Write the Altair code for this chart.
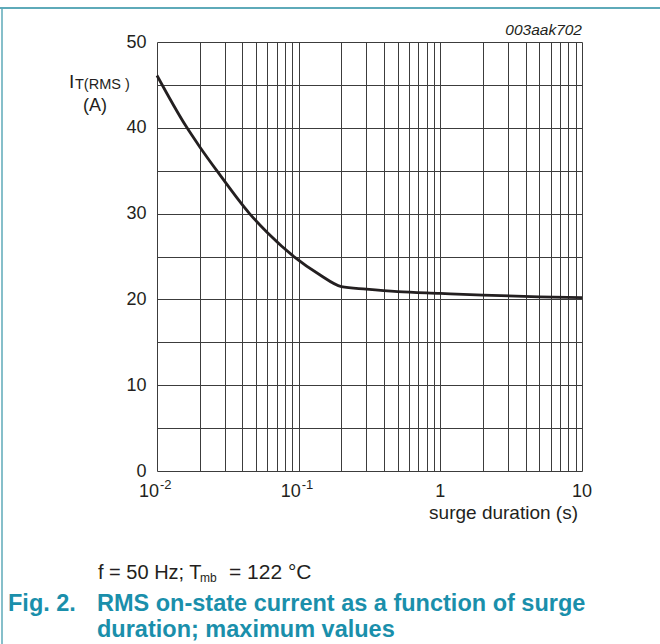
import altair as alt
import pandas as pd

# Surge duration (s) and maximum RMS on-state current (A)
duration_s = [0.01, 0.016, 0.02, 0.027, 0.045, 0.06, 0.094, 0.14, 0.2,
              0.3, 0.5, 1.0, 2.0, 5.0, 10.0]
current_a = [46.1, 40.2, 37.8, 34.8, 30.0, 27.8, 24.9, 22.9, 21.5,
             21.2, 20.9, 20.7, 20.5, 20.3, 20.2]

# Grid positions: every 1..9 x decade on the log axis, every 5 A on the linear axis
x_grid = [m * 10.0 ** e for e in (-2, -1, 0) for m in range(1, 10)] + [10.0]
y_grid = list(range(0, 55, 5))

# Decade tick labels (base and superscript exponent)
dec_exp_vals = [0.01, 0.1]
dec_exp_base = ["10", "10"]
dec_exp_sup = ["-2", "-1"]
dec_plain_vals = [1.0, 10.0]
dec_plain_text = ["1", "10"]

W, H = 425, 429
TEAL = "#1a8fab"
BORDER = "#5eaab9"
INK = "#231f20"

df = pd.DataFrame({"t": duration_s, "i": current_a})
xs = alt.Scale(type="log", domain=[0.01, 10])
ys = alt.Scale(domain=[0, 50], nice=False)

base = alt.Chart(df)

curve = base.mark_line(color=INK, strokeWidth=2.8, interpolate="monotone").encode(
    x=alt.X("t:Q", scale=xs,
            axis=alt.Axis(values=x_grid, grid=True, labels=False, ticks=False,
                          domain=False, title=None, gridColor="#3c3c3c",
                          gridOpacity=1, gridWidth=1)),
    y=alt.Y("i:Q", scale=ys,
            axis=alt.Axis(values=y_grid, grid=True, ticks=False, domain=False,
                          title=None, gridColor="#3c3c3c", gridOpacity=1,
                          gridWidth=1, labelFontSize=18, labelColor=INK,
                          labelFont="Liberation Sans", labelPadding=11,
                          labelExpr="datum.value % 10 == 0 ? datum.label : ''")),
)

exp_df = pd.DataFrame({"t": dec_exp_vals, "b": dec_exp_base, "s": dec_exp_sup})
lab_base = alt.Chart(exp_df).mark_text(
    align="right", baseline="middle", fontSize=18, font="Liberation Sans",
    color=INK, dx=2).encode(x=alt.X("t:Q", scale=xs), y=alt.value(H + 21), text="b:N")
lab_sup = alt.Chart(exp_df).mark_text(
    align="left", baseline="middle", fontSize=13, font="Liberation Sans",
    color=INK, dx=3).encode(x=alt.X("t:Q", scale=xs), y=alt.value(H + 14), text="s:N")
plain_df = pd.DataFrame({"t": dec_plain_vals, "b": dec_plain_text})
lab_plain = alt.Chart(plain_df).mark_text(
    align="center", baseline="middle", fontSize=18, font="Liberation Sans",
    color=INK).encode(x=alt.X("t:Q", scale=xs), y=alt.value(H + 21), text="b:N")

one = pd.DataFrame({"k": [0]})


def label(text, x, y, size=18, align="left", weight="normal", style="normal",
          color=INK, baseline="middle"):
    return alt.Chart(one).mark_text(
        text=text, align=align, baseline=baseline, fontSize=size,
        font="Liberation Sans", fontWeight=weight, fontStyle=style, color=color,
    ).encode(x=alt.value(x), y=alt.value(y))


texts = [
    label("003aak702", 425, -12, size=15.5, align="right", style="italic"),
    label("I", -88, 40, size=19),
    label("T(RMS )", -82, 43, size=14.5),
    label("(A)", -62, 64, size=18, align="center"),
    label("surge duration (s)", 421, 471, size=19, align="right"),
    label("f = 50 Hz; T", -59, 531, size=20),
    label("mb", 43, 536, size=12),
    label("= 122 °C", 72, 531, size=21),
    label("Fig. 2.", -149, 562, size=23.5, weight="bold", color=TEAL),
    label("RMS on-state current as a function of surge", -60, 562, size=23.5,
          weight="bold", color=TEAL),
    label("duration; maximum values", -60, 588, size=23.5, weight="bold", color=TEAL),
]

# Frame of the figure box: a top rule and a left rule
top_rule = alt.Chart(one).mark_rule(color=BORDER, strokeWidth=2).encode(
    x=alt.value(-157), x2=alt.value(503), y=alt.value(-34))
left_rule = alt.Chart(one).mark_rule(color=BORDER, strokeWidth=1.5).encode(
    x=alt.value(-155), y=alt.value(-34), y2=alt.value(602))

chart = alt.layer(curve, lab_base, lab_sup, lab_plain, top_rule, left_rule, *texts).properties(
    width=W, height=H,
    autosize=alt.AutoSizeParams(type="none"),
    padding={"left": 157, "top": 42, "right": 78, "bottom": 173},
    background="white",
).configure_view(strokeWidth=0)

chart.save("out.html", embed_options={"renderer": "svg", "actions": False})
